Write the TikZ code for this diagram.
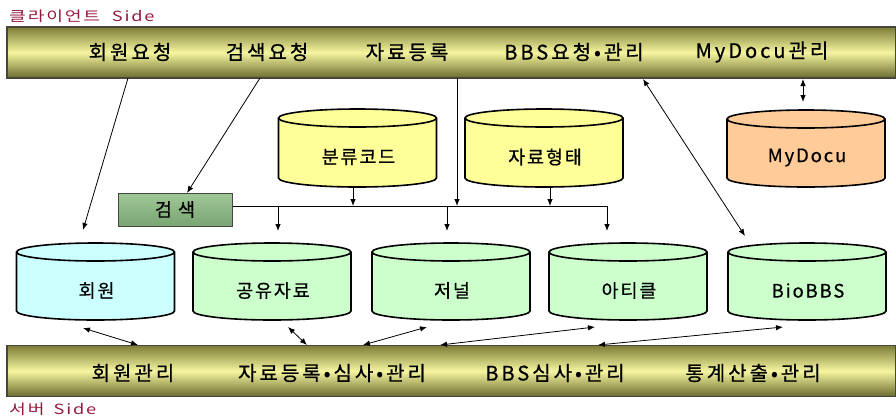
\documentclass[tikz,border=0pt]{standalone}
\usepackage{fontspec}
\usepackage{graphicx}
\usetikzlibrary{arrows.meta,calc}
\newfontfamily\krbar{Noto Sans CJK KR}[LetterSpace=15,FakeBold=0.7]
\newfontfamily\krcyl{Noto Sans CJK KR}[LetterSpace=10,FakeBold=0.6]
\newfontfamily\krside{Noto Sans CJK KR}[LetterSpace=10]
\definecolor{sidered}{RGB}{150,25,60}
\definecolor{barmid}{RGB}{245,245,160}
\definecolor{baredge}{RGB}{125,125,55}
\definecolor{barline}{RGB}{70,70,60}
\definecolor{cylyellow}{RGB}{255,255,153}
\definecolor{cylpeach}{RGB}{255,204,153}
\definecolor{cylcyan}{RGB}{204,255,255}
\definecolor{cylgreen}{RGB}{204,255,204}
\definecolor{srchT}{RGB}{160,200,150}
\definecolor{srchM}{RGB}{215,242,205}
\definecolor{srchB}{RGB}{120,165,115}
\tikzset{
  barbox/.style={rectangle, inner sep=0pt, outer sep=0pt, draw=barline, line width=1.2pt,
    top color=baredge, bottom color=baredge!85!black, middle color=barmid,
    minimum width=889pt, minimum height=51pt},
  bartext/.style={inner sep=0pt, font=\fontsize{20}{22}\selectfont\krbar},
  cylnode/.style={rectangle, inner sep=0pt, outer sep=0pt, minimum width=158pt},
  cyltext/.style={inner sep=0pt, font=\fontsize{18.5}{20}\selectfont\krcyl},
  sidetext/.style={inner sep=0pt, anchor=west, text=sidered, font=\fontsize{14}{16}\selectfont\krside},
  srchbox/.style={rectangle, draw=barline, line width=1pt, top color=srchT, middle color=srchM, bottom color=srchB,
    minimum width=114pt, minimum height=33pt, inner sep=0pt, font=\fontsize{18.5}{20}\selectfont\krcyl},
  conn/.style={line width=0.8pt, -{Latex[length=7pt,width=5.5pt]}},
  plain/.style={line width=0.8pt},
  dbl/.style={line width=0.8pt, {Latex[length=7pt,width=5.5pt]}-{Latex[length=7pt,width=5.5pt]}}
}
% name, cx, cy, height, fill, text
\newcommand\dbcyl[6]{%
  \node[cylnode, minimum height=#4pt] (#1) at (#2,#3) {};
  \path[fill=#5, draw=black, line width=1.6pt]
    ($(#1.north west)+(0,9)$) -- ($(#1.south west)+(0,-9)$)
    arc[start angle=180, end angle=360, x radius=79pt, y radius=9pt]
    -- ($(#1.north east)+(0,9)$)
    arc[start angle=0, end angle=180, x radius=79pt, y radius=9pt] -- cycle;
  \draw[line width=1.6pt] ($(#1.north west)+(0,9)$)
    arc[start angle=180, end angle=360, x radius=79pt, y radius=9pt];
  \node[cyltext] (#1-t) at ($(#1.center)+(1,9)$) {#6};
}
\begin{document}
\begin{tikzpicture}[x=1pt,y=-1pt]
\useasboundingbox (0,0) rectangle (896,416);

% side labels
\node[sidetext] (clientside) at (9,16) {\scalebox{1.3}[1]{클라이언트\hspace{9pt}Side}};
\node[sidetext] (serverside) at (9,409) {\scalebox{1.3}[1]{서버\hspace{7pt}Side}};

% bars
\node[barbox] (topbar) at (451.5,52.5) {};
\node[barbox] (botbar) at (451.5,371) {};

\node[bartext] (r1) at (130,52) {회원요청};
\node[bartext] (r2) at (267,52) {검색요청};
\node[bartext] (r3) at (407,52) {자료등록};
\node[bartext] (r4) at (574,52) {BBS요청•관리};
\node[bartext] (r5) at (762,52) {MyDocu관리};

\node[bartext] (s1) at (133,373) {회원관리};
\node[bartext] (s2) at (332,373) {자료등록•심사•관리};
\node[bartext] (s3) at (555,373) {BBS심사•관리};
\node[bartext] (s4) at (753,373) {통계산출•관리};

% cylinders top row
\dbcyl{code}{357.5}{148}{78}{cylyellow}{분류코드}
\dbcyl{form}{544}{148}{78}{cylyellow}{자료형태}
\dbcyl{mydocu}{806}{148.5}{77}{cylpeach}{MyDocu}

% cylinders bottom row
\dbcyl{member}{95.5}{281.5}{77}{cylcyan}{회원}
\dbcyl{share}{272}{281.5}{77}{cylgreen}{공유자료}
\dbcyl{journal}{451}{281.5}{77}{cylgreen}{저널}
\dbcyl{article}{628}{281.5}{77}{cylgreen}{아티클}
\dbcyl{biobbs}{807}{281.5}{77}{cylgreen}{BioBBS}

% search box
\node[srchbox] (search) at (175,209.5) {검 색};

% coordinates
\coordinate (t1) at (128,78);
\coordinate (t2) at (260,78);
\coordinate (t3) at (457,78);
\coordinate (t4) at (643,79);
\coordinate (t5) at (803,79);
\coordinate (j3) at (457,206);
\coordinate (j1) at (353,206);
\coordinate (j2) at (550,206);
\coordinate (hend) at (607,206);
\coordinate (d1) at (278,206);
\coordinate (d2) at (447,206);
\coordinate (memtip) at (83,230);
\coordinate (srtip) at (187,193);
\coordinate (biotip) at (745,236);
\coordinate (mytip) at (803,102);

\draw[conn] (t1) -- (memtip);
\draw[conn] (t2) -- (srtip);
\draw[conn] (t3) -- (j3);
\draw[conn] (code.south -| j1) -- (j1);
\draw[conn] (form.south -| j2) -- (j2);
\draw[plain] (search.east |- j1) -- (hend);
\draw[conn] (d1) -- (278,231);
\draw[conn] (d2) -- (447,231);
\draw[conn] (hend) -- (607,231);
\draw[dbl] (t4) -- (biotip);
\draw[dbl] (t5) -- (mytip);

% bottom double arrows
\coordinate (m1) at (83,328);   \coordinate (b1) at (138,345);
\coordinate (m2) at (288,327);  \coordinate (b2) at (307,345);
\coordinate (m3) at (427,327);  \coordinate (b3) at (363,345);
\coordinate (m4) at (595,327);  \coordinate (b4) at (440,345);
\coordinate (m5) at (783,327);  \coordinate (b5) at (598,345);
\draw[dbl] (m1) -- (b1);
\draw[dbl] (m2) -- (b2);
\draw[dbl] (b3) -- (m3);
\draw[dbl] (b4) -- (m4);
\draw[dbl] (b5) -- (m5);
\end{tikzpicture}
\end{document}
